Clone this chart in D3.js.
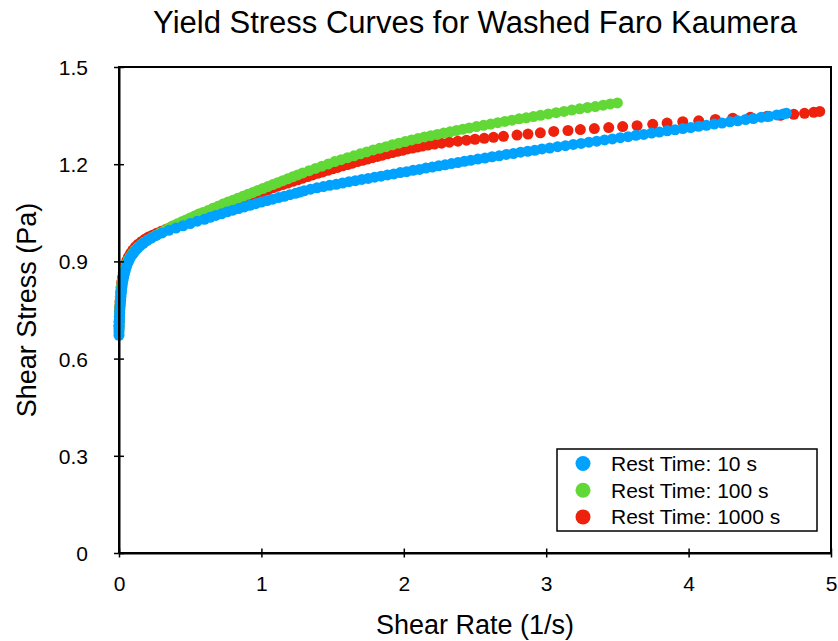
<!DOCTYPE html>
<html>
<head>
<meta charset="utf-8">
<script src="https://cdn.jsdelivr.net/npm/d3@7"></script>
<style>
  html, body { margin: 0; padding: 0; background: #fff; }
  svg { display: block; font-family: "Liberation Sans", Arial, Helvetica, sans-serif; }
</style>
</head>
<body>
<svg id="chart" width="838" height="641"></svg>
<script>
// Shear rate (1/s) vs shear stress (Pa) after three rest times
const rest10 = [
  [0.000,0.672],[0.000,0.682],[0.001,0.692],[0.001,0.702],[0.002,0.712],[0.003,0.722],[0.004,0.732],[0.005,0.742],
  [0.006,0.752],[0.008,0.762],[0.010,0.772],[0.012,0.782],[0.014,0.792],[0.016,0.802],[0.018,0.812],[0.021,0.822],
  [0.024,0.832],[0.028,0.842],[0.033,0.852],[0.038,0.862],[0.044,0.872],[0.051,0.882],[0.058,0.892],[0.066,0.900],
  [0.075,0.908],[0.086,0.916],[0.099,0.924],[0.113,0.932],[0.129,0.940],[0.148,0.948],[0.170,0.956],[0.196,0.964],
  [0.226,0.972],[0.262,0.980],[0.303,0.988],[0.350,0.996],[0.400,1.003],[0.450,1.010],[0.500,1.017],[0.550,1.024],
  [0.600,1.030],[0.640,1.036],[0.680,1.042],[0.720,1.047],[0.760,1.053],[0.800,1.058],[0.840,1.063],[0.880,1.068],
  [0.920,1.073],[0.960,1.078],[1.000,1.083],[1.040,1.088],[1.080,1.092],[1.120,1.097],[1.160,1.101],[1.200,1.106],
  [1.240,1.110],[1.270,1.114],[1.300,1.118],[1.345,1.123],[1.390,1.127],[1.435,1.131],[1.480,1.135],[1.525,1.138],
  [1.570,1.142],[1.615,1.146],[1.660,1.149],[1.705,1.153],[1.750,1.156],[1.795,1.160],[1.840,1.163],[1.885,1.167],
  [1.930,1.170],[1.975,1.174],[2.020,1.177],[2.065,1.181],[2.110,1.184],[2.155,1.188],[2.200,1.191],[2.245,1.195],
  [2.290,1.198],[2.335,1.202],[2.380,1.205],[2.425,1.209],[2.470,1.212],[2.520,1.216],[2.570,1.219],[2.620,1.223],
  [2.670,1.226],[2.720,1.230],[2.770,1.233],[2.820,1.237],[2.870,1.240],[2.920,1.243],[2.970,1.247],[3.025,1.250],
  [3.080,1.254],[3.135,1.257],[3.190,1.261],[3.245,1.264],[3.300,1.268],[3.355,1.271],[3.410,1.275],[3.465,1.278],
  [3.520,1.282],[3.575,1.285],[3.630,1.289],[3.685,1.292],[3.740,1.296],[3.795,1.299],[3.850,1.303],[3.905,1.306],
  [3.960,1.310],[4.015,1.313],[4.070,1.317],[4.125,1.320],[4.180,1.324],[4.235,1.327],[4.290,1.331],[4.345,1.334],
  [4.400,1.338],[4.455,1.341],[4.510,1.345],[4.565,1.348],[4.620,1.352],[4.665,1.355],[4.687,1.357]
];

const rest100 = [
  [0.000,0.690],[0.001,0.705],[0.002,0.720],[0.003,0.735],[0.004,0.750],[0.006,0.765],[0.008,0.780],[0.010,0.795],
  [0.013,0.810],[0.017,0.825],[0.022,0.840],[0.028,0.855],[0.035,0.868],[0.043,0.880],[0.053,0.892],[0.065,0.904],
  [0.079,0.915],[0.095,0.925],[0.113,0.935],[0.133,0.944],[0.155,0.952],[0.179,0.960],[0.205,0.967],[0.232,0.974],
  [0.260,0.981],[0.290,0.988],[0.320,0.995],[0.350,1.003],[0.380,1.010],[0.410,1.016],[0.440,1.022],[0.470,1.028],
  [0.500,1.034],[0.530,1.040],[0.560,1.046],[0.590,1.051],[0.625,1.057],[0.660,1.064],[0.695,1.070],[0.730,1.077],
  [0.765,1.083],[0.800,1.089],[0.835,1.095],[0.870,1.101],[0.905,1.107],[0.940,1.113],[0.975,1.119],[1.010,1.125],
  [1.045,1.131],[1.080,1.137],[1.115,1.143],[1.150,1.149],[1.185,1.155],[1.220,1.161],[1.255,1.167],[1.290,1.173],
  [1.335,1.180],[1.380,1.187],[1.425,1.194],[1.470,1.201],[1.515,1.208],[1.560,1.214],[1.605,1.220],[1.650,1.226],
  [1.695,1.232],[1.740,1.238],[1.785,1.244],[1.830,1.249],[1.875,1.254],[1.920,1.260],[1.965,1.265],[2.010,1.270],
  [2.055,1.275],[2.100,1.279],[2.145,1.284],[2.190,1.288],[2.235,1.292],[2.280,1.296],[2.325,1.300],[2.370,1.304],
  [2.415,1.308],[2.460,1.312],[2.510,1.316],[2.560,1.320],[2.610,1.324],[2.660,1.328],[2.710,1.332],[2.760,1.336],
  [2.810,1.340],[2.860,1.343],[2.910,1.347],[2.960,1.351],[3.015,1.355],[3.070,1.359],[3.125,1.363],[3.180,1.367],
  [3.235,1.371],[3.290,1.375],[3.345,1.378],[3.400,1.382],[3.450,1.386],[3.500,1.389]
];

const rest1000 = [
  [0.000,0.700],[0.001,0.715],[0.002,0.730],[0.003,0.745],[0.005,0.760],[0.007,0.775],[0.009,0.790],[0.012,0.805],
  [0.015,0.820],[0.019,0.835],[0.024,0.850],[0.030,0.865],[0.037,0.878],[0.045,0.890],[0.055,0.902],[0.067,0.914],
  [0.081,0.925],[0.097,0.935],[0.115,0.945],[0.135,0.953],[0.157,0.961],[0.181,0.968],[0.207,0.975],[0.235,0.981],
  [0.265,0.987],[0.297,0.993],[0.331,0.999],[0.367,1.006],[0.405,1.013],[0.445,1.020],[0.487,1.027],[0.531,1.035],
  [0.577,1.044],[0.625,1.053],[0.660,1.059],[0.695,1.065],[0.730,1.071],[0.765,1.077],[0.800,1.083],[0.835,1.089],
  [0.870,1.094],[0.905,1.100],[0.940,1.105],[0.975,1.111],[1.010,1.116],[1.045,1.121],[1.080,1.127],[1.115,1.132],
  [1.150,1.137],[1.185,1.142],[1.220,1.147],[1.255,1.152],[1.290,1.157],[1.325,1.162],[1.360,1.167],[1.395,1.172],
  [1.430,1.176],[1.465,1.181],[1.500,1.186],[1.535,1.190],[1.570,1.195],[1.605,1.199],[1.640,1.203],[1.675,1.208],
  [1.710,1.212],[1.745,1.216],[1.780,1.220],[1.815,1.224],[1.850,1.228],[1.885,1.232],[1.920,1.236],[1.955,1.240],
  [1.990,1.243],[2.025,1.247],[2.060,1.250],[2.095,1.253],[2.130,1.256],[2.170,1.259],[2.215,1.262],[2.265,1.265],
  [2.320,1.268],[2.380,1.271],[2.440,1.274],[2.500,1.277],[2.565,1.280],[2.630,1.283],[2.700,1.286],[2.795,1.290],
  [2.872,1.293],[2.959,1.297],[3.053,1.301],[3.153,1.304],[3.240,1.307],[3.338,1.310],[3.439,1.313],[3.537,1.316],
  [3.638,1.319],[3.748,1.323],[3.849,1.327],[3.959,1.331],[4.071,1.334],[4.188,1.338],[4.310,1.342],[4.434,1.345],
  [4.552,1.348],[4.645,1.351],[4.739,1.354],[4.814,1.357],[4.879,1.360],[4.921,1.363]
];

const seriesNames = ["Rest Time: 10 s", "Rest Time: 100 s", "Rest Time: 1000 s"];
const seriesColors = ["#00A2FF", "#61D836", "#EE220C"];
const xTicks = [0, 1, 2, 3, 4, 5];
const yTicks = [0, 0.3, 0.6, 0.9, 1.2, 1.5];
const yTickLabels = ["0", "0.3", "0.6", "0.9", "1.2", "1.5"];

const seriesData = [rest10, rest100, rest1000];
const drawOrder = [2, 1, 0]; // 1000 s underneath, 10 s on top

const svg = d3.select("#chart");
const plotLeft = 119, plotRight = 831, plotTop = 67, plotBottom = 553;

const x = d3.scaleLinear().domain([0, 5]).range([plotLeft, plotRight]);
const y = d3.scaleLinear().domain([0, 1.5]).range([plotBottom, plotTop]);

svg.append("rect").attr("width", 838).attr("height", 641).attr("fill", "#fff");

// title
svg.append("text")
  .attr("x", (plotLeft + plotRight) / 2).attr("y", 33)
  .attr("text-anchor", "middle")
  .attr("font-size", 31).attr("fill", "#000")
  .text("Yield Stress Curves for Washed Faro Kaumera");

// data points
const plot = svg.append("g");
drawOrder.forEach(i => {
  plot.append("g")
    .attr("fill", seriesColors[i])
    .selectAll("circle")
    .data(seriesData[i])
    .join("circle")
    .attr("cx", d => x(d[0]))
    .attr("cy", d => y(d[1]))
    .attr("r", 5.5);
});

// frame
svg.append("rect")
  .attr("x", plotLeft).attr("y", plotTop)
  .attr("width", plotRight - plotLeft).attr("height", plotBottom - plotTop)
  .attr("fill", "none").attr("stroke", "#000").attr("stroke-width", 2);

// x axis
const xAxis = svg.append("g")
  .attr("transform", `translate(0,${plotBottom})`)
  .call(d3.axisBottom(x).tickValues(xTicks).tickFormat(d3.format("d")).tickSize(9).tickSizeOuter(0));
xAxis.attr("font-family", null).attr("font-size", null);
xAxis.select(".domain").attr("stroke", "#000").attr("stroke-width", 2);
xAxis.selectAll(".tick line").attr("y1", -4.5).attr("y2", 4.5).attr("stroke", "#000").attr("stroke-width", 1.5);
xAxis.selectAll(".tick text")
  .attr("y", 38).attr("dy", null)
  .attr("font-size", 21).attr("fill", "#000");

// y axis
const yAxis = svg.append("g")
  .attr("transform", `translate(${plotLeft},0)`)
  .call(d3.axisLeft(y).tickValues(yTicks).tickFormat((d, i) => yTickLabels[i]).tickSize(10).tickSizeOuter(0));
yAxis.attr("font-family", null).attr("font-size", null);
yAxis.select(".domain").attr("stroke", "#000").attr("stroke-width", 2);
yAxis.selectAll(".tick line").attr("x1", -5).attr("x2", 5).attr("stroke", "#000").attr("stroke-width", 1.5);
yAxis.selectAll(".tick text")
  .attr("x", -31).attr("dy", "0.36em")
  .attr("font-size", 21).attr("fill", "#000");

// axis titles
svg.append("text")
  .attr("x", (plotLeft + plotRight) / 2).attr("y", 634)
  .attr("text-anchor", "middle").attr("font-size", 27).attr("fill", "#000")
  .text("Shear Rate (1/s)");
svg.append("text")
  .attr("transform", `translate(36,${(plotTop + plotBottom) / 2}) rotate(-90)`)
  .attr("text-anchor", "middle").attr("font-size", 27).attr("fill", "#000")
  .text("Shear Stress (Pa)");

// legend
const legend = svg.append("g").attr("transform", "translate(557,449)");
legend.append("rect")
  .attr("width", 260).attr("height", 82)
  .attr("fill", "#fff").attr("stroke", "#000").attr("stroke-width", 1.5);
const rows = legend.selectAll("g.row")
  .data(seriesNames)
  .join("g").attr("class", "row")
  .attr("transform", (d, i) => `translate(0,${14.5 + i * 26.7})`);
rows.append("circle")
  .attr("cx", 26).attr("cy", 0).attr("r", 7.5)
  .attr("fill", (d, i) => seriesColors[i]);
rows.append("text")
  .attr("x", 54).attr("y", 7.5)
  .attr("font-size", 21).attr("fill", "#000")
  .text(d => d);
</script>
</body>
</html>
